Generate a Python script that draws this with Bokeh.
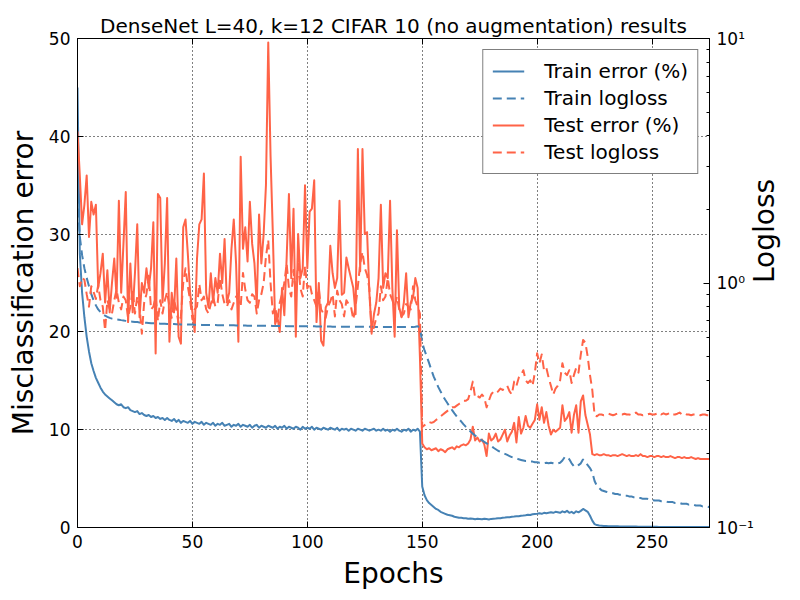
import math

from bokeh.plotting import figure
from bokeh.models import (Range1d, LogScale, LogAxis, LinearAxis, FixedTicker, Title,
                          CustomJSTickFormatter, Legend, LegendItem)
from bokeh.embed import file_html
from bokeh.resources import INLINE

# 读图得到的数据 (epoch 0..275)
train_err = [
    45.0, 28.0, 24.0, 21.5, 19.5, 18.0, 16.8, 16.0, 15.3, 14.8,
    14.3, 13.9, 13.6, 13.4, 13.2, 13.0, 12.8, 12.6, 12.5, 12.6,
    12.3, 12.2, 12.3, 12.0, 11.9, 11.8, 11.9, 11.6, 11.7, 11.5,
    11.4, 11.5, 11.3, 11.4, 11.2, 11.3, 11.1, 11.2, 11.0, 11.2,
    11.0, 10.9, 11.1, 10.8, 11.0, 10.7, 10.9, 10.8, 10.7, 10.9,
    10.6, 10.8, 10.7, 10.6, 10.8, 10.5, 10.7, 10.6, 10.5, 10.7,
    10.4, 10.6, 10.5, 10.7, 10.4, 10.5, 10.6, 10.3, 10.5, 10.4,
    10.6, 10.3, 10.5, 10.4, 10.3, 10.5, 10.2, 10.4, 10.5, 10.2,
    10.4, 10.3, 10.2, 10.4, 10.3, 10.2, 10.4, 10.1, 10.3, 10.2,
    10.4, 10.1, 10.3, 10.2, 10.1, 10.3, 10.2, 10.0, 10.3, 10.1,
    10.2, 10.1, 10.3, 10.0, 10.2, 10.1, 10.0, 10.2, 10.1, 10.0,
    10.2, 10.1, 10.0, 10.2, 9.9, 10.1, 10.0, 10.1, 9.9, 10.1,
    10.0, 9.9, 10.1, 10.0, 9.9, 10.1, 10.0, 9.9, 10.0, 10.1,
    9.9, 10.0, 9.9, 10.1, 9.9, 10.0, 9.8, 10.0, 9.9, 10.1,
    9.9, 9.8, 10.0, 9.9, 10.1, 9.8, 10.0, 9.9, 10.1, 9.8,
    4.2, 3.3, 2.8, 2.5, 2.3, 2.1, 1.9, 1.8, 1.6, 1.5,
    1.4, 1.3, 1.25, 1.2, 1.1, 1.05, 1.0, 1.0, 0.95, 0.95,
    0.9, 0.92, 0.9, 0.85, 0.9, 0.88, 0.85, 0.9, 0.86, 0.82,
    0.88, 0.9, 0.92, 0.95, 0.95, 1.0, 1.02, 1.05, 1.05, 1.1,
    1.12, 1.15, 1.15, 1.2, 1.22, 1.25, 1.3, 1.28, 1.35, 1.38,
    1.4, 1.45, 1.4, 1.5, 1.45, 1.5, 1.55, 1.5, 1.6, 1.55,
    1.5, 1.65, 1.55, 1.7, 1.5, 1.6, 1.45, 1.65, 1.55, 1.7,
    1.9, 1.75, 1.6, 1.2, 0.7, 0.35, 0.25, 0.2, 0.18, 0.16,
    0.15, 0.14, 0.13, 0.13, 0.12, 0.12, 0.11, 0.11, 0.1, 0.1,
    0.1, 0.09, 0.09, 0.09, 0.08, 0.08, 0.08, 0.08, 0.07, 0.07,
    0.07, 0.07, 0.07, 0.06, 0.06, 0.06, 0.06, 0.06, 0.06, 0.05,
    0.05, 0.05, 0.05, 0.05, 0.05, 0.05, 0.05, 0.04, 0.04, 0.04,
    0.04, 0.04, 0.04, 0.04, 0.04, 0.04,
]

train_logloss = [
    2.3, 1.55, 1.3, 1.15, 1.05, 0.97, 0.9, 0.85, 0.81, 0.78,
    0.76, 0.745, 0.735, 0.727, 0.72, 0.715, 0.712, 0.71, 0.708, 0.705,
    0.703, 0.7, 0.698, 0.696, 0.695, 0.693, 0.692, 0.69, 0.689, 0.688,
    0.687, 0.686, 0.685, 0.684, 0.684, 0.683, 0.682, 0.682, 0.681, 0.68,
    0.68, 0.679, 0.679, 0.678, 0.678, 0.677, 0.677, 0.677, 0.676, 0.676,
    0.676, 0.675, 0.675, 0.675, 0.674, 0.674, 0.674, 0.673, 0.673, 0.673,
    0.673, 0.672, 0.672, 0.672, 0.672, 0.671, 0.671, 0.671, 0.671, 0.67,
    0.67, 0.67, 0.67, 0.67, 0.669, 0.669, 0.669, 0.669, 0.669, 0.668,
    0.668, 0.668, 0.668, 0.668, 0.668, 0.667, 0.667, 0.667, 0.667, 0.667,
    0.667, 0.666, 0.666, 0.666, 0.666, 0.666, 0.666, 0.665, 0.665, 0.665,
    0.665, 0.665, 0.665, 0.665, 0.664, 0.664, 0.664, 0.664, 0.664, 0.664,
    0.664, 0.663, 0.663, 0.663, 0.663, 0.663, 0.663, 0.663, 0.663, 0.662,
    0.662, 0.662, 0.662, 0.662, 0.662, 0.662, 0.662, 0.662, 0.661, 0.661,
    0.661, 0.661, 0.661, 0.661, 0.661, 0.661, 0.661, 0.661, 0.66, 0.66,
    0.66, 0.66, 0.66, 0.66, 0.66, 0.66, 0.66, 0.662, 0.665, 0.66,
    0.57, 0.53, 0.5, 0.47, 0.44, 0.414, 0.395, 0.375, 0.36, 0.345,
    0.333, 0.322, 0.312, 0.302, 0.293, 0.285, 0.278, 0.271, 0.264, 0.258,
    0.252, 0.247, 0.242, 0.238, 0.234, 0.23, 0.227, 0.224, 0.221, 0.218,
    0.215, 0.212, 0.209, 0.206, 0.204, 0.202, 0.2, 0.198, 0.196, 0.194,
    0.193, 0.192, 0.19, 0.189, 0.188, 0.187, 0.187, 0.186, 0.186, 0.185,
    0.185, 0.184, 0.184, 0.183, 0.184, 0.183, 0.184, 0.183, 0.182, 0.183,
    0.184, 0.188, 0.194, 0.195, 0.19, 0.183, 0.178, 0.177, 0.18, 0.183,
    0.19, 0.185, 0.18, 0.175, 0.168, 0.155, 0.148, 0.145, 0.142, 0.141,
    0.14, 0.139, 0.138, 0.138, 0.137, 0.137, 0.136, 0.136, 0.135, 0.135,
    0.134, 0.134, 0.133, 0.133, 0.132, 0.132, 0.131, 0.131, 0.131, 0.13,
    0.13, 0.129, 0.129, 0.129, 0.128, 0.128, 0.128, 0.127, 0.127, 0.127,
    0.126, 0.126, 0.126, 0.125, 0.125, 0.125, 0.124, 0.124, 0.124, 0.123,
    0.123, 0.123, 0.122, 0.122, 0.122, 0.121,
]

test_err = [
    40.5, 36.0, 31.0, 33.0, 36.0, 29.7, 33.3, 32.0, 33.0, 24.5,
    26.0, 28.0, 23.0, 26.3, 22.0, 25.0, 27.5, 23.5, 33.4, 24.0,
    29.0, 34.3, 21.0, 27.0, 22.0, 26.0, 31.0, 21.5, 25.0, 24.0,
    26.5, 24.5, 26.5, 31.2, 17.8, 34.1, 33.7, 23.0, 27.0, 33.7,
    19.0, 24.0, 22.0, 27.5, 19.5, 18.8, 30.7, 31.5, 28.0, 24.0,
    22.0, 20.0, 27.5, 31.0, 31.5, 36.2, 24.0, 22.5, 26.0, 23.0,
    25.5, 24.0, 28.0, 25.0, 29.5, 23.0, 24.0, 28.5, 31.5, 27.0,
    19.0, 37.9, 28.5, 30.7, 27.2, 33.3, 29.0, 27.0, 22.7, 32.0,
    27.0, 30.0, 35.0, 49.6, 38.0, 30.0, 20.8, 21.5, 20.0, 24.5,
    21.7, 27.5, 34.1, 25.5, 32.6, 19.5, 30.0, 25.5, 26.5, 35.0,
    26.5, 32.3, 32.6, 35.5, 21.0, 25.0, 19.1, 18.6, 22.5, 23.0,
    28.8, 26.0, 24.5, 25.5, 33.4, 23.8, 24.0, 27.6, 26.5, 25.5,
    24.5, 21.8, 38.7, 26.2, 38.7, 30.0, 30.2, 24.0, 20.0, 21.8,
    23.0, 25.5, 33.0, 24.5, 26.0, 25.5, 33.4, 24.5, 19.5, 30.4,
    22.5, 21.5, 23.0, 26.0, 21.5, 23.0, 23.5, 25.5, 24.5, 17.4,
    8.6, 8.2, 8.0, 8.1, 7.9, 8.0, 8.1, 7.8, 8.0, 7.9,
    7.7, 8.0, 8.1, 8.2, 8.0, 8.3, 8.2, 8.4, 8.5, 8.4,
    8.6, 9.0, 10.3, 8.9, 9.2, 8.8, 9.0, 8.5, 7.3, 9.6,
    8.9, 9.1, 9.6, 8.8, 9.0, 9.5, 10.0, 8.8, 9.4, 9.8,
    10.7, 8.7, 11.3, 9.6, 10.2, 11.4, 10.4, 10.2, 10.6, 11.0,
    12.6, 11.0, 12.3, 10.7, 11.8, 10.4, 9.5, 10.0, 9.8, 10.0,
    10.2, 12.5, 10.9, 11.2, 11.8, 9.7, 11.5, 12.5, 9.7, 12.9,
    13.5, 11.5, 10.5, 9.5, 7.5, 7.4, 7.5, 7.4, 7.4, 7.5,
    7.4, 7.4, 7.3, 7.4, 7.4, 7.3, 7.4, 7.5, 7.4, 7.3,
    7.4, 7.3, 7.3, 7.4, 7.3, 7.5, 7.3, 7.3, 7.2, 7.3,
    7.3, 7.2, 7.3, 7.3, 7.2, 7.3, 7.2, 7.2, 7.3, 7.2,
    7.1, 7.2, 7.2, 7.1, 7.2, 7.1, 7.1, 7.2, 7.1, 7.0,
    7.1, 7.0, 7.0, 7.0, 7.0, 7.0,
]

test_logloss = [
    1.15, 0.97, 1.05, 1.03, 0.9, 0.8, 0.97, 0.92, 0.86, 0.98,
    0.85, 0.8, 0.64, 0.85, 0.78, 0.75, 0.85, 0.94, 0.83, 0.78,
    0.88, 0.85, 0.72, 0.8, 0.94, 0.75, 0.88, 0.8, 0.62, 0.83,
    0.9, 1.07, 0.78, 0.8, 0.88, 0.7, 0.85, 0.75, 0.85, 0.92,
    0.8, 0.72, 0.85, 0.78, 0.68, 0.73, 1.0, 1.15, 0.97, 0.85,
    0.71, 0.78, 0.8, 0.99, 0.85, 0.88, 0.78, 0.75, 0.82, 0.88,
    0.8, 0.83, 1.05, 0.9, 0.82, 0.8, 0.85, 0.78, 0.83, 0.88,
    0.85, 0.8, 1.1, 0.94, 0.85, 0.83, 0.9, 0.88, 0.75, 0.85,
    0.9, 1.0, 1.28, 1.5, 1.0, 0.75, 0.8, 0.7, 0.83, 0.9,
    1.0, 1.2, 0.95, 0.88, 1.13, 0.9, 1.2, 0.95, 0.88, 1.18,
    0.95, 1.0, 0.9, 0.85, 0.8, 0.95, 0.78, 0.75, 0.72, 0.8,
    0.84, 0.9, 0.73, 0.93, 0.85, 0.82, 0.73, 0.85, 0.82, 0.8,
    0.71, 0.8, 0.97, 1.2, 1.34, 1.15, 1.08, 0.95, 0.62, 0.66,
    0.72, 0.75, 0.97, 0.85, 0.88, 1.05, 0.9, 0.85, 0.8, 0.88,
    0.78, 0.73, 0.75, 0.82, 0.8, 0.78, 0.97, 0.85, 0.8, 0.75,
    0.258, 0.262, 0.265, 0.27, 0.268, 0.27, 0.275, 0.28, 0.285, 0.29,
    0.295, 0.3, 0.305, 0.31, 0.31, 0.315, 0.32, 0.325, 0.33, 0.33,
    0.335, 0.36, 0.395, 0.34, 0.345, 0.34, 0.35, 0.34, 0.31, 0.33,
    0.35, 0.36, 0.355, 0.36, 0.37, 0.365, 0.375, 0.38, 0.36, 0.35,
    0.395, 0.38, 0.41, 0.42, 0.44, 0.4, 0.39, 0.4, 0.38, 0.43,
    0.516, 0.47, 0.51, 0.44, 0.45, 0.41, 0.38, 0.35, 0.37, 0.38,
    0.4, 0.47, 0.43, 0.42, 0.44, 0.39, 0.42, 0.45, 0.43, 0.51,
    0.585, 0.57, 0.5, 0.42, 0.365, 0.288, 0.285, 0.29, 0.29, 0.288,
    0.29, 0.292, 0.29, 0.288, 0.29, 0.293, 0.29, 0.29, 0.292, 0.29,
    0.29, 0.288, 0.292, 0.295, 0.29, 0.29, 0.288, 0.29, 0.29, 0.292,
    0.29, 0.29, 0.292, 0.295, 0.29, 0.293, 0.29, 0.292, 0.295, 0.29,
    0.29, 0.292, 0.295, 0.29, 0.293, 0.29, 0.29, 0.288, 0.29, 0.29,
    0.29, 0.288, 0.29, 0.29, 0.288, 0.288,
]

x_ticks = [0, 50, 100, 150, 200, 250]
err_ticks = [0, 10, 20, 30, 40, 50]
log_ticks = [0.1, 1, 10]
log_minor = [0.2, 0.3, 0.4, 0.5, 0.6, 0.7, 0.8, 0.9, 2, 3, 4, 5, 6, 7, 8, 9]

epochs = list(range(len(train_err)))

FONT = "DejaVu Sans"
BLUE = "#4682B4"
RED = "#FF6347"

p = figure(width=800, height=592, output_backend="svg", toolbar_location=None,
           x_range=Range1d(0, 275), y_range=Range1d(0, 50),
           min_border_left=77, min_border_right=91, min_border_top=38, min_border_bottom=65,
           title="DenseNet L=40, k=12 CIFAR 10 (no augmentation) results")
p.extra_y_ranges = {"log": Range1d(0.1, 10)}
p.extra_y_scales = {"log": LogScale()}

p.title.align = "center"
p.title.text_font = FONT
p.title.text_font_size = "20px"
p.title.text_font_style = "normal"
p.title.text_color = "black"
p.title.standoff = 1

p.outline_line_color = "black"
p.outline_line_width = 1

# 坐标轴
bottom_axis = p.below[0]
left_axis = p.left[0]
bottom_axis.ticker = FixedTicker(ticks=x_ticks)
left_axis.ticker = FixedTicker(ticks=err_ticks)
bottom_axis.axis_label = "Epochs"
left_axis.axis_label = "Misclassification error"

top_axis = LinearAxis(ticker=FixedTicker(ticks=x_ticks))
p.add_layout(top_axis, "above")

log_axis = LogAxis(y_range_name="log",
                   ticker=FixedTicker(ticks=log_ticks, minor_ticks=log_minor),
                   formatter=CustomJSTickFormatter(code="""
const e = Math.round(Math.log10(tick));
const sup = {"-": "⁻", "0": "⁰", "1": "¹", "2": "²"};
return "10" + String(e).split("").map(c => sup[c]).join("");
"""))
p.add_layout(log_axis, "right")

for ax in [bottom_axis, left_axis, top_axis, log_axis]:
    ax.axis_line_color = "black"
    ax.major_tick_in = 6
    ax.major_tick_out = 0
    ax.minor_tick_in = 3
    ax.minor_tick_out = 0
    ax.major_tick_line_color = "black"
    ax.minor_tick_line_color = "black"
    ax.major_label_text_font = FONT
    ax.major_label_text_font_size = "17px"
    ax.major_label_text_color = "black"
    ax.major_label_standoff = 7
    ax.axis_label_text_font = FONT
    ax.axis_label_text_font_size = "28px"
    ax.axis_label_text_font_style = "normal"
    ax.axis_label_text_color = "black"
    ax.axis_label_standoff = 6
top_axis.major_label_text_font_size = "0px"
top_axis.major_label_standoff = 0

# 右轴标题, 从下往上读
if "axis_label_orientation" in LogAxis.properties():
    log_axis.axis_label = "Logloss"
    log_axis.axis_label_orientation = math.pi / 2
    log_axis.axis_label_standoff = 8
else:
    p.add_layout(Title(text="Logloss", align="center", text_font=FONT,
                       text_font_size="28px", text_font_style="normal",
                       text_color="black"), "right")

p.xgrid.ticker = FixedTicker(ticks=x_ticks)
p.ygrid.ticker = FixedTicker(ticks=err_ticks)
for g in [p.xgrid[0], p.ygrid[0]]:
    g.grid_line_color = "black"
    g.grid_line_dash = "1 3"
    g.grid_line_width = 1

# 曲线
r1 = p.line(epochs, train_err, color=BLUE, line_width=2, line_join="round")
r3 = p.line(epochs, test_err, color=RED, line_width=2, line_join="round")
r2 = p.line(epochs, train_logloss, color=BLUE, line_width=2, line_dash="9 5",
            y_range_name="log")
r4 = p.line(epochs, test_logloss, color=RED, line_width=2, line_dash="9 5",
            line_join="round", y_range_name="log")

legend = Legend(items=[LegendItem(label="Train error (%)", renderers=[r1]),
                       LegendItem(label="Train logloss", renderers=[r2]),
                       LegendItem(label="Test error (%)", renderers=[r3]),
                       LegendItem(label="Test logloss", renderers=[r4])],
                location="top_right")
legend.label_text_font = FONT
legend.label_text_font_size = "20px"
legend.label_text_color = "black"
legend.border_line_color = "black"
legend.border_line_width = 1
legend.background_fill_alpha = 1
legend.glyph_width = 32
legend.glyph_height = 20
legend.label_height = 20
legend.label_standoff = 20
legend.padding = 9
legend.spacing = 3
legend.margin = 11
p.add_layout(legend)

open("out.html", "w").write(file_html(p, INLINE))
